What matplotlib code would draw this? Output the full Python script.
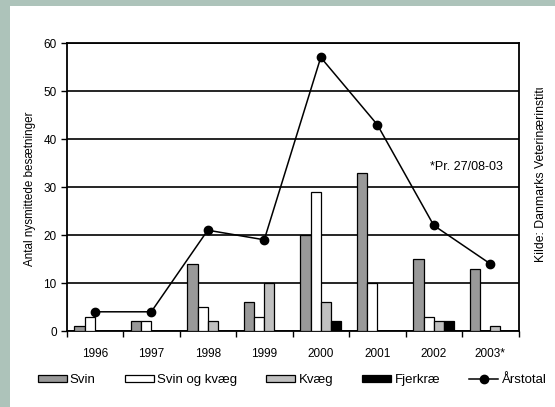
import numpy as np
import matplotlib
matplotlib.use("Agg")
import matplotlib.pyplot as plt
from matplotlib.lines import Line2D
from matplotlib.patches import Patch, Rectangle
from matplotlib.transforms import Bbox, TransformedBbox

plt.rcParams['font.family'] = ['Liberation Sans', 'DejaVu Sans']

# Nysmittede besaetninger pr. aar
years = ['1996', '1997', '1998', '1999', '2000', '2001', '2002', '2003*']
svin = [1, 2, 14, 6, 20, 33, 15, 13]
svin_kvaeg = [3, 2, 5, 3, 29, 10, 3, 0]
kvaeg = [0, 0, 2, 10, 6, 0, 2, 1]
fjerkrae = [0, 0, 0, 0, 2, 0, 2, 0]
aarstotal = [4, 4, 21, 19, 57, 43, 22, 14]

fig = plt.figure(figsize=(5.55, 4.07), dpi=100)
fig.patch.set_facecolor('#adc3ba')
fig.patches.append(Rectangle((10 / 555, 0), 1, 1 - 6 / 407, transform=fig.transFigure,
                             facecolor='white', edgecolor='none', zorder=-1))

ax = fig.add_axes([66.5 / 555, 1 - 331 / 407, 452 / 555, 288 / 407])

x = np.arange(len(years)) + 0.5
w = 0.18
series = [(svin, '#999999', 'Svin'),
          (svin_kvaeg, 'white', 'Svin og kvæg'),
          (kvaeg, '#c0c0c0', 'Kvæg'),
          (fjerkrae, 'black', 'Fjerkræ')]
for i, (vals, col, lab) in enumerate(series):
    v = np.array(vals, dtype=float)
    m = v > 0
    ax.bar(x[m] + (i - 1.5) * w, v[m], w, color=col, edgecolor='black',
           linewidth=0.9, zorder=3)

ax.plot(x, aarstotal, color='black', lw=1.1, marker='o', ms=6, zorder=4)

ax.set_xlim(0, len(years))
ax.set_ylim(0, 60)
ax.set_yticks(range(0, 61, 10))
ax.yaxis.grid(True, color='black', lw=1.2, zorder=1)
ax.set_axisbelow(True)
ax.set_xticks(range(len(years) + 1))
ax.set_xticklabels([])
ax.set_xticks(x, minor=True)
ax.set_xticklabels(years, minor=True)
ax.tick_params(axis='x', which='minor', length=0, pad=12, labelsize=8.5)
ax.tick_params(axis='x', which='major', length=4, width=1, direction='out')
ax.tick_params(axis='y', length=4, width=1, pad=3, labelsize=8.5)
for s in ax.spines.values():
    s.set_linewidth(1.3)

ax.text(6.43, 34.2, '*Pr. 27/08-03', fontsize=9, va='center', ha='left')

fig.text(30 / 555, 1 - 189 / 407, 'Antal nysmittede besætninger', rotation=90,
         fontsize=8.4, ha='center', va='center')

src = fig.text(541 / 555, 1 - 262 / 407, 'Kilde: Danmarks Veterinærinstitut',
               rotation=90, fontsize=8.8, ha='center', va='bottom')
src.set_clip_box(TransformedBbox(Bbox([[0.9, 0], [1, 1 - 88 / 407]]), fig.transFigure))
src.set_clip_on(True)

handles = [Patch(facecolor=c, edgecolor='black', lw=0.9, label=l) for _, c, l in series]
handles.append(Line2D([], [], color='black', lw=1.1, marker='o', ms=6, label='Årstotal'))
fig.legend(handles=handles, loc='center', bbox_to_anchor=(292 / 555, 1 - 380 / 407),
           ncol=5, frameon=False, fontsize=9.5, handlelength=2.2, handleheight=0.5,
           handletextpad=0.25, columnspacing=2.2)

fig.savefig('out.png', dpi=100)
